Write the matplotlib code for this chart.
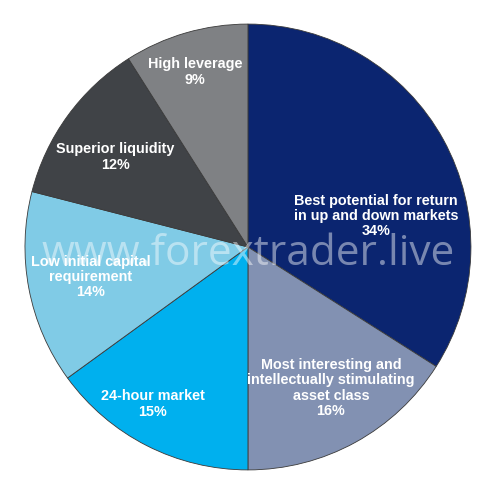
import matplotlib.pyplot as plt

# Survey shares (clockwise from 12 o'clock)
labels = ['Best potential for return\nin up and down markets',
          'Most interesting and\nintellectually stimulating\nasset class',
          '24-hour market',
          'Low initial capital\nrequirement',
          'Superior liquidity',
          'High leverage']
shares = [34, 16, 15, 14, 12, 9]
colors = ['#0b2570', '#8291b2', '#00b0ee', '#80cbe6', '#404347', '#7f8184']

# label centres in data units (pie radius = 1)
label_pos = [(0.574, 0.139), (0.372, -0.632), (-0.426, -0.704),
             (-0.704, -0.135), (-0.596, 0.404), (-0.238, 0.785)]

plt.rcParams['font.family'] = ['Liberation Sans', 'DejaVu Sans']

fig = plt.figure(figsize=(4.97, 4.98), dpi=100)
ax = fig.add_axes([0, 0, 1, 1])

wedges, _ = ax.pie(shares, colors=colors, startangle=90, counterclock=False,
                   radius=1.0, wedgeprops=dict(edgecolor='#3a3a3a', linewidth=0.6))

for lab, val, (x, y) in zip(labels, shares, label_pos):
    ax.text(x, y, f'{lab}\n{val}%', ha='center', va='center', color='white',
            fontsize=10.4, fontweight='bold', linespacing=1.12)

# watermark
ax.text(0.0, -0.03, 'www.forextrader.live', ha='center', va='center',
        color='white', alpha=0.45, fontsize=30.5, family=['Open Sans', 'DejaVu Sans'])

ax.set_xlim(-1.112, 1.117)
ax.set_ylim(-1.126, 1.108)
ax.set_aspect('auto')
ax.axis('off')

fig.savefig('out.png', dpi=100, facecolor='white')
